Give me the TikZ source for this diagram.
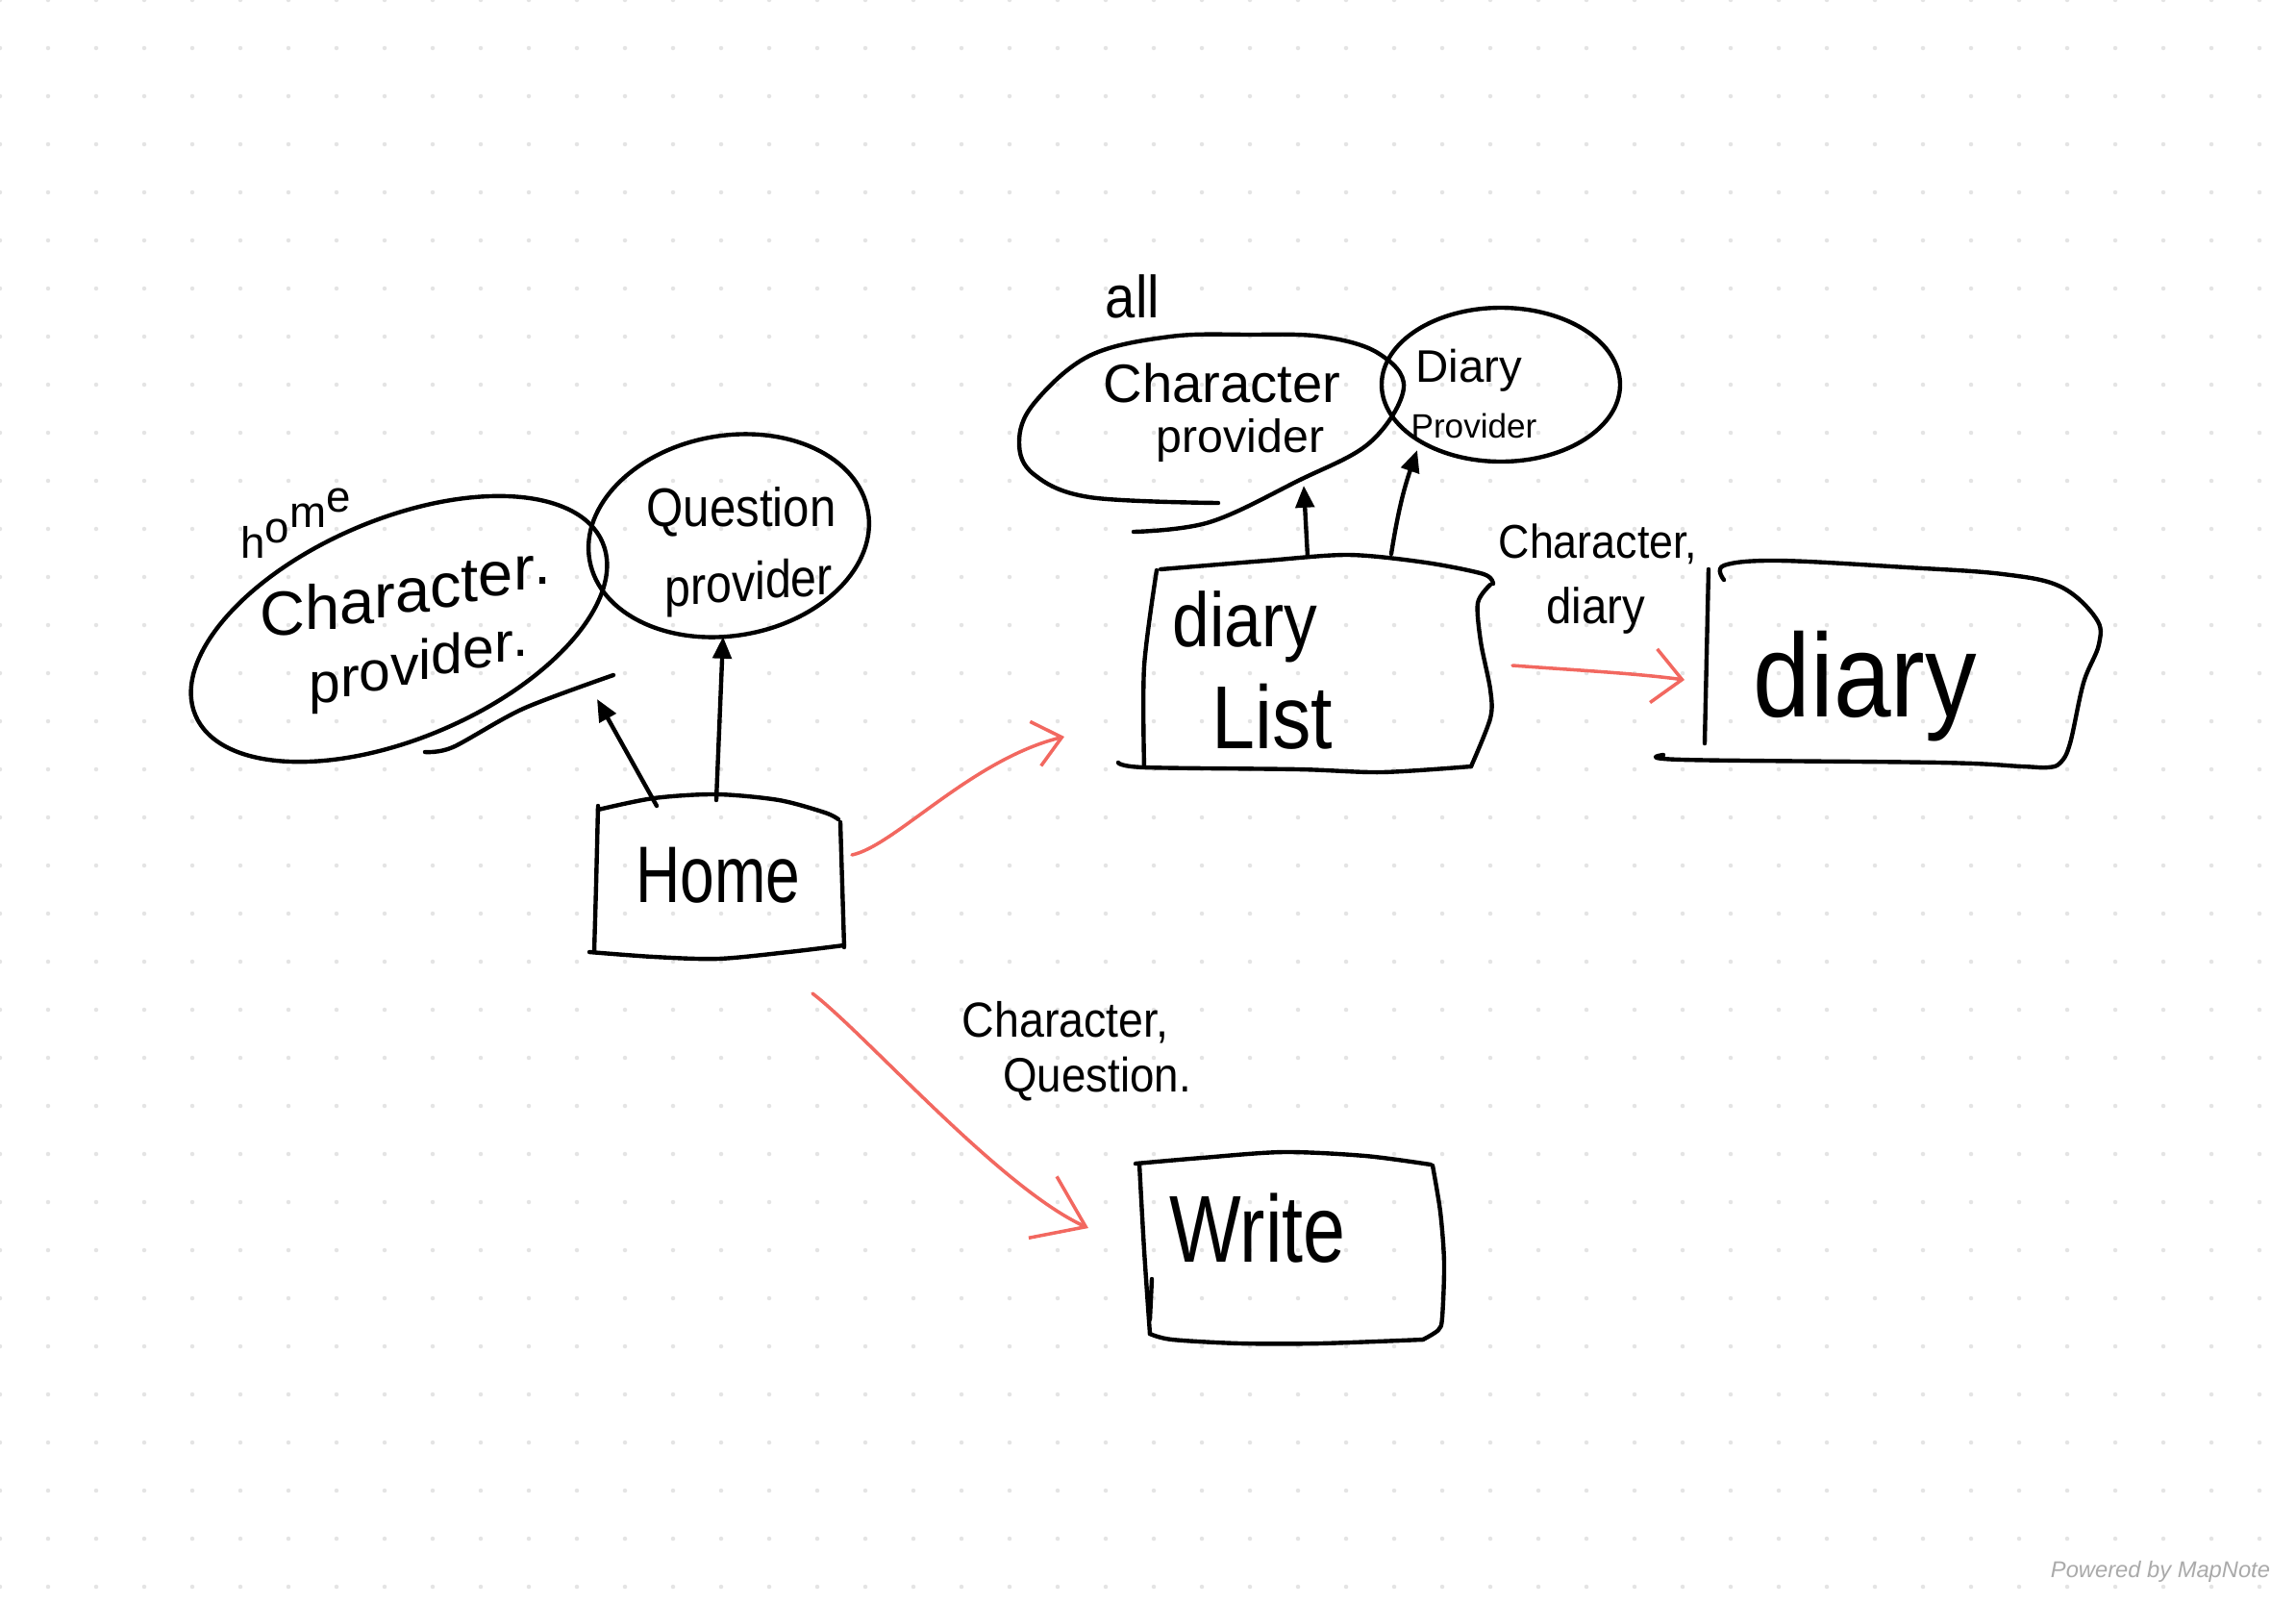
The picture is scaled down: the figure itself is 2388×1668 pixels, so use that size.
\documentclass[tikz,border=0pt]{standalone}
\usepackage{fontspec}
\setmainfont{Liberation Sans}
\newfontfamily\wmfont{Liberation Sans}
\usetikzlibrary{arrows.meta}
\definecolor{inkred}{RGB}{242,104,96}
\definecolor{dotgray}{RGB}{228,228,228}
\definecolor{wmgray}{RGB}{170,170,170}
% size (pt), vertical stretch, text
\newcommand\hw[3]{{\fontsize{#1pt}{#1pt}\selectfont\scalebox{1}[#2]{#3}}}
% upright letters on a rising baseline, as in handwriting
\newcount\slopei
\newdimen\slopestep
\newcommand\slopetext[2]{\begingroup\slopei=0 \slopestep=#1\relax\slopeloop#2\relax\endgroup}
\def\slopeloop#1{\ifx#1\relax\else\raisebox{\dimexpr\slopestep*\slopei\relax}{#1}\advance\slopei by 1 \expandafter\slopeloop\fi}
\begin{document}
\begin{tikzpicture}[x=0.02cm,y=0.02cm,
  ink/.style={line width=2.5pt, line cap=round, line join=round, draw=black},
  redink/.style={line width=2pt, line cap=round, line join=round, draw=inkred},
  blackarrow/.style={ink, -{Triangle[length=13pt,width=11pt]}},
  redarrow/.style={redink, -{Straight Barb[length=16pt,width=27pt]}},
  txt/.style={inner sep=0pt, text=black},
  wm/.style={inner sep=0pt, text=wmgray, font=\wmfont\itshape\fontsize{13.5pt}{14pt}\selectfont},
]
\fill[white] (0,0) rectangle (2388,-1668);
\useasboundingbox (0,0) rectangle (2388,-1668);
\foreach \i in {0,...,47}{\foreach \j in {0,...,33}{\fill[dotgray] (\i*50,-\j*50) circle[radius=0.045cm];}}

% ---------- Home group ----------
\draw[ink, rotate around={23:(415,-654)}] (415,-654) ellipse [x radius=230, y radius=114];
\draw[ink] plot[smooth] coordinates {(442,-782) (471,-777) (544,-737) (638,-702)};
\draw[ink, rotate around={10:(758,-557)}] (758,-557) ellipse [x radius=147, y radius=104];

\node[txt, anchor=base west] (homeLbl) at (250,-580) {\hw{26}{1}{\slopetext{9pt}{home}}};
\node[txt, anchor=base west] (cpA) at (270,-660) {\hw{37}{1}{\slopetext{3.3pt}{Character.}}};
\node[txt, anchor=base west] (cpB) at (321,-730) {\hw{33.5}{1}{\slopetext{3.4pt}{provider.}}};
\node[txt] (qA) at (771,-532) {\hw{28}{1.15}{Question}};
\node[txt, anchor=base west] (qB) at (691,-630) {\hw{27.5}{1.15}{\slopetext{0.8pt}{provider}}};

% Home box
\draw[ink] plot[smooth] coordinates {(622,-842) (680,-830) (745,-826) (810,-832) (858,-845) (872,-852)};
\draw[ink] plot[smooth] coordinates {(874,-855) (876,-920) (878,-985)};
\draw[ink] plot[smooth] coordinates {(878,-983) (820,-990) (747,-997) (680,-995) (613,-990)};
\draw[ink] plot[smooth] coordinates {(618,-990) (620,-920) (622,-838)};
\node[txt, anchor=base] (homeTxt) at (747,-938) {\hw{36.5}{1.3}{Home}};

\coordinate (homeA) at (683,-838);
\coordinate (cpTip) at (621,-727);
\coordinate (homeB) at (745,-832);
\coordinate (qTip) at (752,-662);
\draw[blackarrow] (homeA) -- (cpTip);
\draw[blackarrow] (homeB) -- (qTip);

% red arrows from Home
\coordinate (homeR) at (886,-889);
\coordinate (listIn) at (1107,-766);
\draw[redarrow] (homeR) .. controls (930,-880) and (1010,-790) .. (listIn);
\coordinate (homeW) at (845,-1033);
\coordinate (writeIn) at (1132,-1277);
\draw[redink, -{Straight Barb[length=28pt,width=40pt]}] (homeW) .. controls (900,-1075) and (1040,-1235) .. (writeIn);

\node[txt, anchor=base] (wcA) at (1108,-1078) {\hw{26.5}{1.1}{Character,}};
\node[txt, anchor=base] (wcB) at (1141,-1135) {\hw{26}{1.1}{Question.}};

% Write box
\draw[ink] plot[smooth] coordinates {(1181,-1210) (1250,-1204) (1335,-1198) (1420,-1202) (1488,-1211)};
\draw[ink] plot[smooth] coordinates {(1490,-1212) (1498,-1260) (1502,-1313) (1500,-1370) (1496,-1383) (1480,-1393)};
\draw[ink] plot[smooth] coordinates {(1480,-1393) (1373,-1397) (1290,-1397) (1219,-1393) (1196,-1387)};
\draw[ink] plot[smooth] coordinates {(1196,-1387) (1190,-1300) (1185,-1210)};
\draw[ink] (1198,-1330) -- (1196,-1372);
\node[txt, anchor=base] (writeTxt) at (1308,-1312) {\hw{45}{1.25}{Write}};

% ---------- all group ----------
\node[txt, anchor=base] (allLbl) at (1178,-330) {\hw{32}{1.1}{all}};
\draw[ink] plot[smooth, tension=0.6] coordinates {(1179,-553) (1258,-543) (1350,-500) (1425,-460) (1460,-403) (1433,-367) (1375,-350) (1300,-348) (1217,-350) (1133,-370) (1075,-420) (1060,-460) (1075,-493) (1133,-517) (1267,-523)};
\node[txt, anchor=base] (acA) at (1271,-418) {\hw{32}{1}{Character}};
\node[txt, anchor=base] (acB) at (1290,-470) {\hw{27.5}{1}{provider}};

\draw[ink] (1561,-400) ellipse [x radius=124, y radius=80];
\node[txt, anchor=base] (dpA) at (1528,-397) {\hw{27}{1}{Diary}};
\node[txt, anchor=base] (dpB) at (1533,-455) {\hw{20}{1}{Provider}};

% diary List box
\draw[ink] plot[smooth] coordinates {(1207,-592) (1317,-583) (1403,-577) (1483,-585) (1543,-597) (1553,-607)};
\draw[ink] plot[smooth] coordinates {(1550,-608) (1537,-627) (1540,-667) (1550,-717) (1550,-747) (1530,-797)};
\draw[ink] plot[smooth] coordinates {(1530,-797) (1437,-803) (1350,-800) (1190,-798) (1163,-793)};
\draw[ink] plot[smooth] coordinates {(1203,-593) (1190,-693) (1190,-798)};
\node[txt, anchor=base] (dlA) at (1295,-672) {\hw{39.5}{1.15}{diary}};
\node[txt, anchor=base] (dlB) at (1323,-778) {\hw{46}{1.15}{List}};

\coordinate (listA) at (1360,-579);
\coordinate (acTip) at (1356,-505);
\coordinate (listB) at (1447,-576);
\coordinate (dpTip) at (1474,-468);
\draw[blackarrow] (listA) -- (acTip);
\draw[blackarrow] (listB) to[bend left=5] (dpTip);

% red arrow List -> diary
\coordinate (listR) at (1573,-692);
\coordinate (diaryIn) at (1752,-707);
\draw[redink, -{Straight Barb[length=17pt,width=32pt]}] (listR) .. controls (1640,-697) and (1700,-700) .. (diaryIn);
\node[txt, anchor=base] (ldA) at (1662,-580) {\hw{25.5}{1.1}{Character,}};
\node[txt, anchor=base] (ldB) at (1660,-648) {\hw{27}{1.1}{diary}};

% diary box
\draw[ink] (1777,-592) -- (1773,-773);
\draw[ink] plot[smooth, tension=0.6] coordinates {(1793,-603) (1793,-588) (1850,-583) (1983,-590) (2083,-597) (2143,-610) (2180,-643) (2183,-670) (2167,-710) (2153,-773) (2143,-793) (2130,-798) (2103,-797) (2017,-793) (1750,-790) (1730,-785)};
\node[txt, anchor=base] (diaryTxt) at (1940,-745) {\hw{61}{1.15}{diary}};

\node[wm] (wmark) at (2247,-1634) {Powered by MapNote};
\end{tikzpicture}
\end{document}
